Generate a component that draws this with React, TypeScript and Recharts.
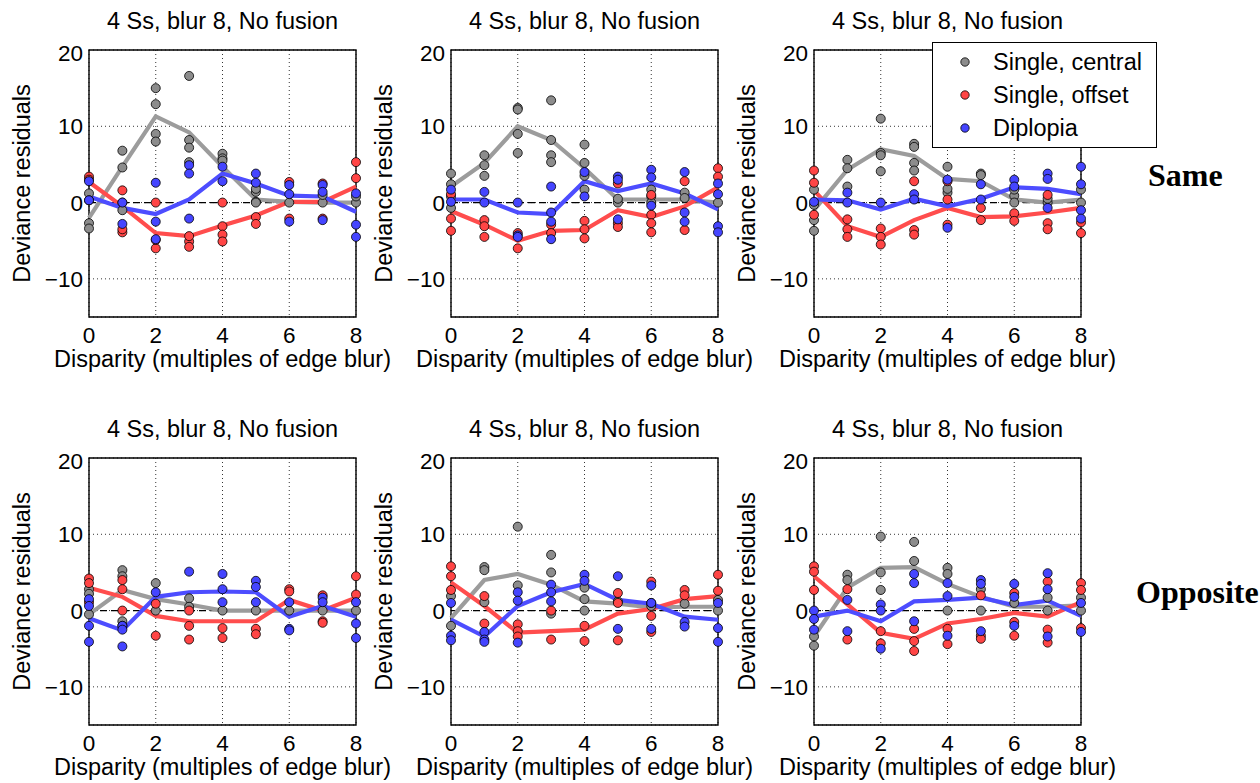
import React from 'react'
import {
  ComposedChart,
  Scatter,
  Line,
  XAxis,
  YAxis,
  CartesianGrid,
  ReferenceLine,
  ReferenceArea,
} from 'recharts'

// Disparity values (multiples of edge blur)
const disparities = [0, 1, 2, 3, 4, 5, 6, 7, 8]
const xTicks = [0, 2, 4, 6, 8]
const yTicks = [-10, 0, 10, 20]

const panelTitle = '4 Ss, blur 8, No fusion'
const seriesNames = ['Single, central', 'Single, offset', 'Diplopia']
const rowLabels = ['Same', 'Opposite']

// --- Same, panel 1 ---
const centralLine1 = [-2.0, 4.7, 11.3, 9.2, 4.7, 0.4, 0.1, 0, 0]
const offsetLine1 = [2.7, -0.5, -4.0, -4.4, -3.0, -1.7, 0.1, 0.1, 2.1]
const diplopiaLine1 = [0.8, -0.7, -1.5, 0.4, 3.8, 2.5, 0.9, 0.8, -1.2]
const centralPts1 = [[1.2, -2.7, -3.4, 0.3], [6.8, 4.6, 0, -1.0], [15, 12.9, 9, 8], [16.6, 8.2, 7.2, 5.3], [6.4, 5.8, 5.5], [1.4, 0.1, 1.8, 0], [0], [0, 1.0], [0, 0.8]]
const offsetPts1 = [[3.4, 3.0], [1.6, -3.9, -3.5], [0, -6.0, -4.9], [-5.1, -5.8, -4.4], [0, -3.1, -4.2, -5.1], [-1.9, -2.8], [2.7, -2.1], [2.5, -2.1], [5.3, 3.2]]
const diplopiaPts1 = [[0.3, 2.8], [0, -2.8], [2.6, -2.5, -4.8], [4.9, 3.8, -2.1], [4.7, 2.8], [3.8, 2.6], [2.3, 1.1, -2.5], [2.3, 1.4, -2.3], [1.2, -2.9, -4.5]]

// --- Same, panel 2 ---
const centralLine2 = [2.1, 5.2, 10.0, 8.2, 4.5, 0.4, 0.4, 0.4, 0]
const offsetLine2 = [-1.1, -2.9, -5.0, -3.7, -3.6, -1.0, -1.9, -0.5, 2.0]
const diplopiaLine2 = [0.4, 0.4, -1.3, -1.5, 2.8, 1.5, 2.5, 1.2, -0.9]
const centralPts2 = [[3.8, 2.4, 0.8, -0.7], [6.2, 4.9, 3.5], [12.4, 9.0, 6.5, 12.2], [13.4, 8.2, 6.2, 5.3], [7.6, 5.2, 3.5, 1.7], [0, 0.5], [1.7, 0.8, 0], [1.3, 0.6], [0]]
const offsetPts2 = [[1.1, -2.1, -3.7], [-2.3, -3.1, -4.5], [-4.0, -6.0], [-2.9, -4.0], [-2.4, -3.5, -4.7], [2.5, -2.7, -3.2], [1.0, -1.6, -2.7, -3.9], [2.8, -3.6], [4.5, 3.4]]
const diplopiaPts2 = [[1.7, 0.1], [1.4, 0], [0, -4.3, -4.5], [2.1, -1.3, -2.5, -4.8], [0.8, 4.0], [3.4, 3.0, -2.2], [4.3, 3.3, -0.4], [4.0, -1.3, -2.5], [2.5, 1.1, -3.1, -3.9]]

// --- Same, panel 3 ---
const centralLine3 = [-1.0, 4.3, 7.0, 6.1, 3.1, 2.8, 0.4, 0, 0.4]
const offsetLine3 = [1.6, -3.1, -4.5, -2.3, -0.7, -1.9, -1.8, -1.3, -0.7]
const diplopiaLine3 = [0.4, 0.3, -0.9, 0.5, -0.5, 0.5, 2.0, 1.8, 1.1]
const centralPts3 = [[1.7, -0.3, -2.3, -3.7], [5.6, 4.5, 2.1], [11.0, 6.5, 6.2, 4.1], [7.7, 7.3, 5.2, 4.2], [4.7, 1.3, 1.8], [3.8, 3.6], [0.9, 0, 1.7], [0, 0.5], [1.7, 0]]
const offsetPts3 = [[4.2, 2.6, -1.6], [-2.2, -3.5, -4.5], [-3.4, -4.5, -5.5], [2.8, -3.6, -4.2], [2.8, 0.4, -2.9], [-0.7, -2.3], [-1.4, -2.4], [1.0, -2.7, -3.5], [-2.6, -4.0]]
const diplopiaPts3 = [[0.1], [1.3, 0], [0], [1.1, 0.4], [3.0, -3.3], [2.4, 0.4], [3.0, 2.1], [3.8, 3.1, -0.7], [4.7, 2.4, -1.0, -2.1]]

// --- Opposite, panel 4 ---
const centralLine4 = [-0.5, 2.7, 1.5, 0.8, 0, 0, 0, 0, 0]
const offsetLine4 = [3.0, 1.8, -0.7, -1.4, -1.4, -1.4, 1.4, 0, 1.7]
const diplopiaLine4 = [-1.0, -2.6, 1.8, 2.4, 2.5, 2.4, -0.8, 0.6, -0.8]
const centralPts4 = [[2.8, -0.5, 2.2], [5.3, 4.5, -1.4, -2.0], [3.6, 0], [1.6, 0.5], [0], [0], [0], [0], [0]]
const offsetPts4 = [[4.2, 3.6, 1.1], [4.0, 2.8, 0], [0.9, -3.3], [0, -2.0, -3.8], [-2.3, -3.6], [-2.4, -3.1], [2.8, 2.5], [2.0, -1.4, -1.6], [4.5, 2.1]]
const diplopiaPts4 = [[1.5, 0.6, -2.0, -4.1], [-2.0, -2.5, -4.7], [2.4], [5.1], [4.8, 2.8, 1.1], [3.9, 3.1, 1.1], [1.1, -2.4, -2.6], [1.7, 1.1], [1.1, -1.7, -3.6]]

// --- Opposite, panel 5 ---
const centralLine5 = [-1.0, 4.0, 4.8, 3.4, 1.2, 0.9, 0.4, 0.5, 0.5]
const offsetLine5 = [3.7, 0.6, -2.9, -2.7, -2.5, -0.4, 0.2, 1.5, 1.9]
const diplopiaLine5 = [-1.2, -3.4, 0.6, 2.4, 3.5, 1.4, 0.9, -0.8, -1.2]
const centralPts5 = [[1.9, -2.0], [5.7, 5.3, 1.1], [11.0, 3.3], [7.3, 5.0, -0.4], [3.0, 1.5, 0], [1.2], [0.6, 1.0], [0.9], [1.4, 0]]
const offsetPts5 = [[5.8, 4.5, 2.7], [1.9, -1.7], [-1.8, -2.7, -3.4], [0, -3.8], [-2.0, -4.0], [2.3, 1.0, -3.9], [3.8, -0.7, -2.8], [2.7, 2.0], [4.7, 2.6]]
const diplopiaPts5 = [[1.0, -3.3, -3.9], [-2.8, -3.8, -4.1], [2.4, 1.3, -4.2], [3.4, 2.4, 1.2], [4.7, 3.9], [4.5, -2.4], [3.3, 1.0, -2.4], [-1.5, -2.1], [1.0, -2.3, -4.1]]

// --- Opposite, panel 6 ---
const centralLine6 = [-3.4, 3.0, 5.6, 5.7, 3.5, 1.8, 0.5, 0.5, 0.7]
const offsetLine6 = [4.5, 0.8, -2.9, -3.7, -1.7, -1.1, -0.3, -0.8, 1.1]
const diplopiaLine6 = [-0.8, 0, -1.4, 1.2, 1.4, 1.7, 0.7, 1.3, -0.7]
const centralPts6 = [[-3.4, -4.6], [4.7, 4.0], [9.7, 5.0, 2.7], [9.0, 6.5], [5.6, 4.8, 0], [2.8, 0], [1.0], [1.7, 0], [1.7, 0]]
const offsetPts6 = [[5.8, 5.1, 2.7], [2.8, -3.8], [-2.7, -4.3], [-2.4, -4.0, -5.3], [-2.4, -4.4], [2.0, -3.3, -3.7], [2.3, -1.5, -3.3], [3.8, -2.5, -4.2], [3.6, 2.7, -2.3]]
const diplopiaPts6 = [[0, -1.1, -2.5], [1.4, -2.7], [0.8, 0, -5.0], [4.8, 3.6, -1.4], [3.6, 1.9, -3.3], [4.0, 3.5, -2.7], [3.5, 1.8, -2.0], [4.9, 2.8, -3.4], [1.0, -2.8]]

const dotColors = ['#8c8c8c', '#ff4545', '#4545ff']
const lineColors = ['#9c9c9c', '#ff4d4d', '#4d4dff']

const FONT = '"Liberation Sans", Arial, Helvetica, sans-serif'
const LABEL_SIZE = 23.5
const TICK_SIZE = 22.5
const PLOT_W = 267
const PLOT_H = 267
const AXIS_W = 80
const AXIS_H = 58
const TOP_PAD = 10
const RIGHT_PAD = 42

const toPoints = (pts: number[][]) =>
  pts.flatMap((vals, i) => vals.map((v) => ({ x: disparities[i], y: v })))
const toLine = (vals: number[]) => vals.map((v, i) => ({ x: disparities[i], y: v }))
const fmtTick = (v: number) => (v < 0 ? '\u2212' + Math.abs(v) : String(v))

interface PanelProps {
  plotLeft: number
  plotTop: number
  lines: number[][]
  points: number[][][]
}

function Panel({ plotLeft, plotTop, lines, points }: PanelProps) {
  return (
    <>
      <div
        style={{
          position: 'absolute',
          left: plotLeft - 20,
          top: plotTop - 42,
          width: PLOT_W + 40,
          textAlign: 'center',
          fontSize: LABEL_SIZE,
          lineHeight: '27px',
          fontFamily: FONT,
          whiteSpace: 'nowrap',
        }}
      >
        {panelTitle}
      </div>
      <div style={{ position: 'absolute', left: plotLeft - AXIS_W, top: plotTop - TOP_PAD }}>
        <ComposedChart
          width={AXIS_W + PLOT_W + RIGHT_PAD}
          height={TOP_PAD + PLOT_H + AXIS_H}
          margin={{ top: TOP_PAD, right: RIGHT_PAD, bottom: 0, left: 0 }}
          style={{ fontFamily: FONT }}
        >
          <CartesianGrid strokeDasharray="1 3" stroke="#000" strokeWidth={0.8} />
          <XAxis
            type="number"
            dataKey="x"
            domain={[0, 8]}
            ticks={xTicks}
            height={AXIS_H}
            tickSize={0}
            tickMargin={10}
            axisLine={false}
            tick={{ fontSize: TICK_SIZE, fill: '#000' }}
            label={{
              value: 'Disparity (multiples of edge blur)',
              position: 'insideBottom',
              offset: 8,
              style: { fontSize: LABEL_SIZE, fill: '#000' },
            }}
          />
          <YAxis
            type="number"
            dataKey="y"
            domain={[-15, 20]}
            ticks={yTicks}
            width={AXIS_W}
            tickSize={0}
            tickMargin={6}
            axisLine={false}
            tickFormatter={fmtTick}
            tick={{ fontSize: TICK_SIZE, fill: '#000' }}
            allowDataOverflow
            label={{
              value: 'Deviance residuals',
              angle: -90,
              position: 'insideLeft',
              offset: 13,
              style: { fontSize: LABEL_SIZE, fill: '#000', textAnchor: 'middle' },
            }}
          />
          <ReferenceLine y={0} stroke="#000" strokeWidth={1.3} strokeDasharray="7 4" />
          <ReferenceArea
            x1={0}
            x2={8}
            y1={-15}
            y2={20}
            fill="none"
            fillOpacity={0}
            stroke="#000"
            strokeWidth={1.4}
          />
          {points.map((pts, i) => (
            <Scatter
              key={'s' + i}
              data={toPoints(pts)}
              fill={dotColors[i]}
              stroke="#000"
              strokeWidth={0.8}
              isAnimationActive={false}
            />
          ))}
          {lines.map((vals, i) => (
            <Line
              key={'l' + i}
              data={toLine(vals)}
              dataKey="y"
              type="linear"
              stroke={lineColors[i]}
              strokeWidth={4.2}
              dot={false}
              activeDot={false}
              isAnimationActive={false}
            />
          ))}
        </ComposedChart>
      </div>
    </>
  )
}

function LegendBox() {
  return (
    <div
      style={{
        position: 'absolute',
        left: 932,
        top: 42,
        width: 223,
        height: 104,
        border: '1px solid #000',
        background: '#fff',
        fontFamily: FONT,
        fontSize: LABEL_SIZE,
      }}
    >
      {seriesNames.map((name, i) => (
        <div
          key={name}
          style={{
            position: 'absolute',
            left: 0,
            top: 4 + i * 33,
            height: 30,
            display: 'flex',
            alignItems: 'center',
            whiteSpace: 'nowrap',
          }}
        >
          <svg width={60} height={30}>
            <circle cx={32} cy={15} r={4.2} fill={dotColors[i]} stroke="#000" strokeWidth={0.8} />
          </svg>
          <span>{name}</span>
        </div>
      ))}
    </div>
  )
}

export default function App() {
  const cols = [89, 451, 814]
  const rows = [50, 458]
  const panels = [
    { lines: [centralLine1, offsetLine1, diplopiaLine1], points: [centralPts1, offsetPts1, diplopiaPts1] },
    { lines: [centralLine2, offsetLine2, diplopiaLine2], points: [centralPts2, offsetPts2, diplopiaPts2] },
    { lines: [centralLine3, offsetLine3, diplopiaLine3], points: [centralPts3, offsetPts3, diplopiaPts3] },
    { lines: [centralLine4, offsetLine4, diplopiaLine4], points: [centralPts4, offsetPts4, diplopiaPts4] },
    { lines: [centralLine5, offsetLine5, diplopiaLine5], points: [centralPts5, offsetPts5, diplopiaPts5] },
    { lines: [centralLine6, offsetLine6, diplopiaLine6], points: [centralPts6, offsetPts6, diplopiaPts6] },
  ]

  return (
    <div
      style={{
        position: 'absolute',
        left: 0,
        top: 0,
        width: 1260,
        height: 783,
        background: '#fff',
        overflow: 'hidden',
      }}
    >
      {panels.map((p, i) => (
        <Panel
          key={i}
          plotLeft={cols[i % 3]}
          plotTop={rows[Math.floor(i / 3)]}
          lines={p.lines}
          points={p.points}
        />
      ))}
      <LegendBox />
      <div
        style={{
          position: 'absolute',
          left: 1148,
          top: 156,
          fontFamily: '"Liberation Serif", "Times New Roman", serif',
          fontWeight: 'bold',
          fontSize: 32,
          lineHeight: '38px',
        }}
      >
        {rowLabels[0]}
      </div>
      <div
        style={{
          position: 'absolute',
          left: 1136,
          top: 573,
          fontFamily: '"Liberation Serif", "Times New Roman", serif',
          fontWeight: 'bold',
          fontSize: 32,
          lineHeight: '38px',
          whiteSpace: 'nowrap',
        }}
      >
        {rowLabels[1]}
      </div>
    </div>
  )
}
